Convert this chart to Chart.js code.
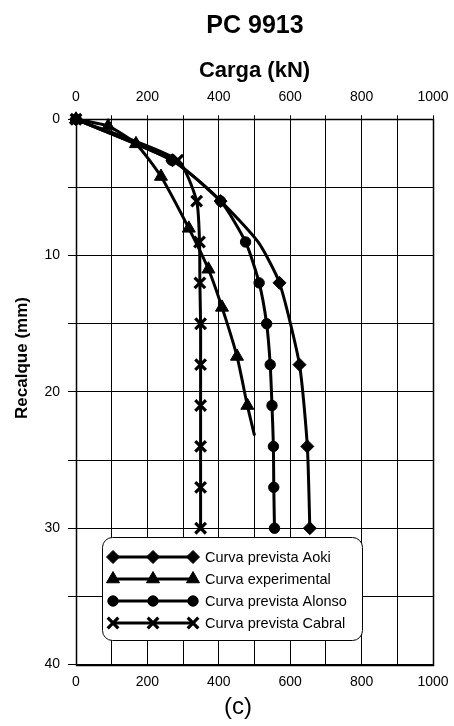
<!DOCTYPE html>
<html>
<head>
<meta charset="utf-8">
<script src="https://cdn.jsdelivr.net/npm/chart.js@4.4.1/dist/chart.umd.min.js"></script>
<style>
html,body{margin:0;padding:0;background:#fff;}
#wrap{width:454px;height:726px;position:relative;}
</style>
</head>
<body>
<div id="wrap"><canvas id="c" width="454" height="726"></canvas></div>
<script>
// Load–settlement curves for pile PC 9913
const chartTitle = 'PC 9913';
const panelLabel = '(c)';
const xAxisTitle = 'Carga (kN)';
const yAxisTitle = 'Recalque (mm)';
const seriesNames = ['Curva prevista Aoki', 'Curva experimental', 'Curva prevista Alonso', 'Curva prevista Cabral'];

const aokiCarga = [0, 270, 405, 510, 570, 626, 648, 655];
const aokiRecalque = [0, 3, 6, 9, 12, 18, 24, 30];
const aokiUnmarked = [3];

const expCarga = [0, 90, 168, 238, 316, 371, 409, 451, 480, 500];
const expRecalque = [0, 0.5, 1.8, 4.2, 8, 11, 13.8, 17.4, 21, 23.2];
const expUnmarked = [9];

const alonsoCarga = [0, 268, 405, 475, 513, 534, 544, 549, 553, 554, 556];
const alonsoRecalque = [0, 3, 6, 9, 12, 15, 18, 21, 24, 27, 30];

const cabralCarga = [0, 285, 338, 346, 347, 349, 349, 349, 349, 349, 349];
const cabralRecalque = [0, 3, 6, 9, 12, 15, 18, 21, 24, 27, 30];

const cargaTicks = [0, 200, 400, 600, 800, 1000];
const recalqueTicks = [0, 10, 20, 30, 40];

const FONT = "'Liberation Sans', Arial, Helvetica, sans-serif";
const markerSize = { rectRot: 6.5, triangle: 7.5, circle: 5.2, crossRot: 7.5 };

function makeSet(label, xs, ys, style, unmarked) {
  const r = markerSize[style];
  return {
    label,
    data: xs.map((x, i) => ({ x, y: ys[i] })),
    borderColor: '#000',
    backgroundColor: '#000',
    borderWidth: 3,
    tension: 0.2,
    pointStyle: style,
    pointRadius: ys.map((_, i) => unmarked.includes(i) ? 0 : r),
    pointHoverRadius: ys.map((_, i) => unmarked.includes(i) ? 0 : r),
    pointBorderWidth: style === 'crossRot' ? 3.2 : 1,
    pointBackgroundColor: '#000',
    pointBorderColor: '#000',
    clip: false,
    xAxisID: 'x',
    yAxisID: 'y'
  };
}

const datasets = [
  makeSet(seriesNames[0], aokiCarga, aokiRecalque, 'rectRot', aokiUnmarked),
  makeSet(seriesNames[1], expCarga, expRecalque, 'triangle', expUnmarked),
  makeSet(seriesNames[2], alonsoCarga, alonsoRecalque, 'circle', []),
  makeSet(seriesNames[3], cabralCarga, cabralRecalque, 'crossRot', [])
];

// Frame around the plotting area, drawn over the grid
const frame = {
  id: 'frame',
  beforeDatasetsDraw(chart) {
    const { ctx, chartArea: a } = chart;
    ctx.save();
    ctx.strokeStyle = '#000';
    ctx.lineWidth = 1.5;
    ctx.strokeRect(Math.round(a.left) + 0.5, Math.round(a.top) + 0.5,
      Math.round(a.right) - Math.round(a.left), Math.round(a.bottom) - Math.round(a.top));
    ctx.restore();
  }
};

function drawMarker(ctx, style, r, bw, x, y) {
  ctx.lineWidth = bw;
  if (Chart.helpers && Chart.helpers.drawPoint) {
    Chart.helpers.drawPoint(ctx, { pointStyle: style, radius: r, rotation: 0, borderWidth: bw }, x, y);
    return;
  }
  ctx.beginPath();
  ctx.arc(x, y, r, 0, Math.PI * 2);
  ctx.fill();
}

// Boxed legend inside the plot, with three markers per sample line
const boxLegend = {
  id: 'boxLegend',
  afterDraw(chart) {
    const ctx = chart.ctx;
    const x0 = 102, y0 = 537, w = 260, h = 103, rad = 10;
    ctx.save();
    ctx.beginPath();
    ctx.roundRect(x0 + 0.5, y0 + 0.5, w, h, rad);
    ctx.fillStyle = '#fff';
    ctx.fill();
    ctx.lineWidth = 1;
    ctx.strokeStyle = '#000';
    ctx.stroke();
    chart.data.datasets.forEach((ds, i) => {
      const y = 557 + i * 22;
      ctx.strokeStyle = '#000';
      ctx.fillStyle = '#000';
      ctx.lineWidth = 3;
      ctx.beginPath();
      ctx.moveTo(113, y);
      ctx.lineTo(193, y);
      ctx.stroke();
      [113, 153, 193].forEach(mx => {
        ctx.strokeStyle = '#000';
        ctx.fillStyle = '#000';
        drawMarker(ctx, ds.pointStyle, markerSize[ds.pointStyle], ds.pointBorderWidth, mx, y);
      });
      ctx.fillStyle = '#000';
      ctx.font = '14.5px ' + FONT;
      ctx.textAlign = 'left';
      ctx.textBaseline = 'middle';
      ctx.fillText(ds.label, 205, y + 1);
    });
    ctx.restore();
  }
};

// Chart heading, vertical axis title and panel letter
const captions = {
  id: 'captions',
  afterDraw(chart) {
    const ctx = chart.ctx;
    ctx.save();
    ctx.fillStyle = '#000';
    ctx.textAlign = 'center';
    ctx.textBaseline = 'middle';
    ctx.font = 'bold 25px ' + FONT;
    ctx.fillText(chartTitle, 255, 26);
    ctx.font = '24px ' + FONT;
    ctx.fillText(panelLabel, 238, 707);
    ctx.translate(22, 358);
    ctx.rotate(-Math.PI / 2);
    ctx.font = 'bold 17px ' + FONT;
    ctx.fillText(yAxisTitle, 0, 0);
    ctx.restore();
  }
};

const tickFont = { family: FONT, size: 14 };

// Horizontal scales: fixed height, no extra side padding for overflowing labels
function fitHorizontal(h) {
  return s => { s.height = h; s.paddingLeft = 0; s.paddingRight = 0; };
}

new Chart(document.getElementById('c'), {
  type: 'line',
  data: { datasets },
  plugins: [frame, boxLegend, captions],
  options: {
    responsive: false,
    devicePixelRatio: 1,
    animation: false,
    layout: { padding: { left: 0, right: 21, top: 0, bottom: 0 } },
    plugins: { legend: { display: false }, tooltip: { enabled: false }, title: { display: false } },
    scales: {
      x: {
        type: 'linear',
        position: 'top',
        min: 0, max: 1000,
        ticks: {
          stepSize: 100,
          color: '#000',
          font: tickFont,
          padding: 10,
          maxRotation: 0,
          autoSkip: false,
          callback: v => cargaTicks.includes(v) ? String(v) : ''
        },
        grid: { color: '#000', lineWidth: 1, drawTicks: true, tickLength: 4, tickColor: '#000' },
        border: { display: false },
        title: { display: true, text: xAxisTitle, color: '#000', font: { family: FONT, size: 22, weight: 'bold' }, padding: { top: 58, bottom: 0 } },
        afterFit: fitHorizontal(119.3)
      },
      x2: {
        type: 'linear',
        position: 'bottom',
        min: 0, max: 1000,
        ticks: {
          stepSize: 100,
          color: '#000',
          font: tickFont,
          padding: 9,
          maxRotation: 0,
          autoSkip: false,
          callback: v => cargaTicks.includes(v) ? String(v) : ''
        },
        grid: { drawOnChartArea: false, drawTicks: false },
        border: { display: false },
        afterFit: fitHorizontal(726 - 664.5)
      },
      y: {
        type: 'linear',
        position: 'left',
        reverse: true,
        min: 0, max: 40,
        ticks: {
          stepSize: 5,
          color: '#000',
          font: tickFont,
          padding: 8,
          autoSkip: false,
          callback: v => recalqueTicks.includes(v) ? String(v) : ''
        },
        grid: { color: '#000', lineWidth: 1, drawTicks: true, tickLength: 8, tickColor: '#000' },
        border: { display: false },
        afterFit: s => { s.width = 76; s.paddingTop = 0; s.paddingBottom = 0; }
      }
    }
  }
});
</script>
</body>
</html>
